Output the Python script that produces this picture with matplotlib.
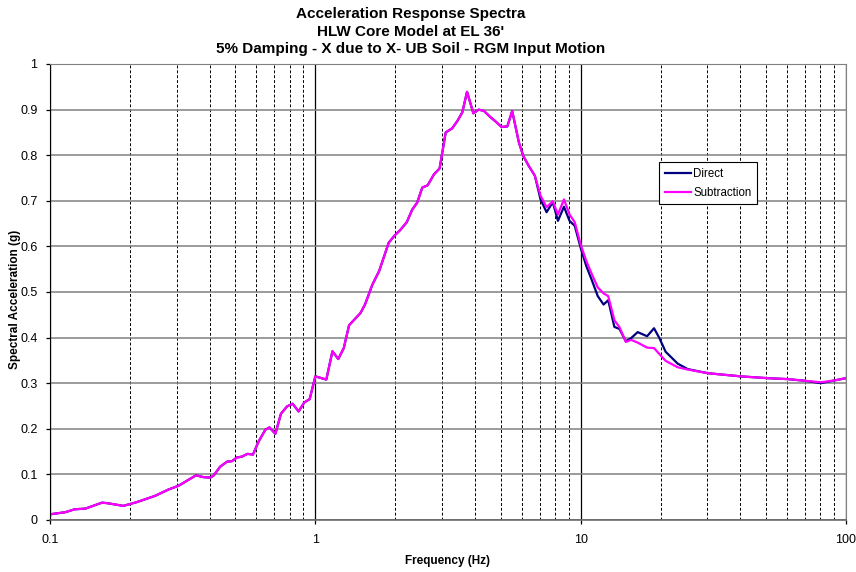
import matplotlib.pyplot as plt
from matplotlib.ticker import FixedLocator, LogLocator, NullFormatter

plt.rcParams['font.family'] = ['Liberation Sans', 'DejaVu Sans']

# frequencies (Hz)
freq = [0.100, 0.114, 0.124, 0.136, 0.157, 0.164, 0.189, 0.212, 0.249, 0.280,
        0.305, 0.328, 0.355, 0.379, 0.402, 0.413, 0.438, 0.465, 0.485, 0.506,
        0.529, 0.555, 0.582, 0.611, 0.648, 0.672, 0.707, 0.742, 0.782, 0.821,
        0.865, 0.909, 0.952, 1.00, 1.10, 1.16, 1.22, 1.28, 1.34, 1.48,
        1.54, 1.64, 1.74, 1.89, 1.99, 2.09, 2.21, 2.32, 2.42, 2.53,
        2.65, 2.80, 2.94, 3.10, 3.28, 3.43, 3.58, 3.73, 3.94, 4.13,
        4.32, 4.58, 4.78, 5.03, 5.29, 5.52, 5.85, 6.08, 6.38, 6.72,
        7.06, 7.44, 7.85, 8.21, 8.65, 9.08, 9.50, 10.0, 10.5, 11.0,
        11.6, 12.2, 12.7, 13.4, 14.0, 14.8, 15.5, 16.4, 17.8, 18.9,
        19.8, 20.9, 23.2, 25.3, 30.1, 40.1, 50.7, 60.2, 69.6, 80.4,
        90.3, 100.0]

# common low-frequency part (both curves overlap up to ~6.7 Hz)
common = [0.0125, 0.017, 0.0235, 0.025, 0.038, 0.037, 0.031, 0.039, 0.053, 0.067,
          0.075, 0.086, 0.098, 0.094, 0.093, 0.097, 0.117, 0.128, 0.129, 0.137,
          0.139, 0.145, 0.1435, 0.172, 0.198, 0.203, 0.189, 0.233, 0.249, 0.255,
          0.238, 0.258, 0.265, 0.315, 0.308, 0.370, 0.353, 0.377, 0.427, 0.454,
          0.473, 0.516, 0.546, 0.608, 0.624, 0.636, 0.653, 0.681, 0.696, 0.729,
          0.734, 0.758, 0.771, 0.850, 0.859, 0.875, 0.894, 0.939, 0.892, 0.900,
          0.897, 0.883, 0.874, 0.862, 0.863, 0.897, 0.828, 0.798, 0.776, 0.755]

direct_hi = [0.703, 0.675, 0.697, 0.656, 0.687, 0.656, 0.645, 0.597, 0.557, 0.527,
             0.491, 0.4725, 0.482, 0.4235, 0.419, 0.392, 0.399, 0.412, 0.403, 0.4205,
             0.399, 0.369, 0.343, 0.331, 0.322, 0.315, 0.311, 0.309, 0.3055, 0.300,
             0.306, 0.311]

subtr_hi = [0.711, 0.686, 0.699, 0.670, 0.703, 0.670, 0.653, 0.604, 0.568, 0.540,
            0.510, 0.497, 0.491, 0.438, 0.423, 0.3905, 0.395, 0.389, 0.378, 0.377,
            0.364, 0.349, 0.335, 0.330, 0.322, 0.315, 0.311, 0.309, 0.3055, 0.302,
            0.306, 0.311]

direct = common + direct_hi
subtraction = common + subtr_hi

title_lines = ['Acceleration Response Spectra',
               "HLW Core Model at EL 36'",
               '5% Damping - X due to X- UB Soil - RGM Input Motion']

fig = plt.figure(figsize=(8.56, 5.72), dpi=100)
W, H = 856, 572
ax = fig.add_axes([50 / W, 1 - 520 / H, 796 / W, 456 / H])

ax.plot(freq, direct, color='#000080', lw=1.6, label='Direct')
ax.plot(freq, subtraction, color='#FF00FF', lw=1.6, label='Subtraction')

ax.set_xscale('log')
ax.set_xlim(0.1, 100)
ax.set_ylim(0, 1)

ax.xaxis.set_major_locator(FixedLocator([0.1, 1, 10, 100]))
ax.set_xticklabels(['0.1', '1', '10', '100'])
ax.xaxis.set_minor_locator(LogLocator(base=10, subs=range(2, 10)))
ax.xaxis.set_minor_formatter(NullFormatter())
ax.set_yticks([i / 10 for i in range(11)])
ax.set_yticklabels(['0'] + ['%.1f' % (i / 10) for i in range(1, 10)] + ['1'])

ax.grid(which='major', axis='x', color='black', lw=0.9, ls='-')
ax.grid(which='minor', axis='x', color='black', lw=0.7, ls=(0, (3, 2)))
ax.grid(which='major', axis='y', color='#808080', lw=1.1, ls='-')
ax.set_axisbelow(True)

ax.tick_params(axis='both', which='major', labelsize=9, length=3, width=0.9,
               direction='out', color='black')
ax.tick_params(axis='x', which='major', pad=7)
ax.tick_params(axis='y', which='major', pad=6)
ax.tick_params(axis='x', which='minor', length=0)

ax.spines['left'].set_color('black')
ax.spines['bottom'].set_color('#606060')
ax.spines['bottom'].set_linewidth(1.1)
ax.spines['top'].set_color('#808080')
ax.spines['right'].set_color('#808080')

leg = ax.legend(loc='upper left', bbox_to_anchor=(659 / W, 1 - 162 / H),
                bbox_transform=fig.transFigure, borderaxespad=0,
                fontsize=8.3, handlelength=2.3, handletextpad=0.15,
                fancybox=False, framealpha=1, edgecolor='black',
                borderpad=0.5, labelspacing=0.6)
leg.get_frame().set_linewidth(0.8)

for i, line in enumerate(title_lines):
    fig.text(411 / W, 1 - (14 + 17.5 * i) / H, line, ha='center', va='center',
             fontsize=11, fontweight='bold')

fig.text(448 / W, 1 - 561 / H, 'Frequency (Hz)', ha='center', va='center',
         fontsize=8.5, fontweight='bold')
fig.text(15 / W, 1 - 299 / H, 'Spectral Acceleration (g)', ha='center',
         va='center', rotation=90, fontsize=8.5, fontweight='bold')

fig.savefig('out.png', dpi=100)
